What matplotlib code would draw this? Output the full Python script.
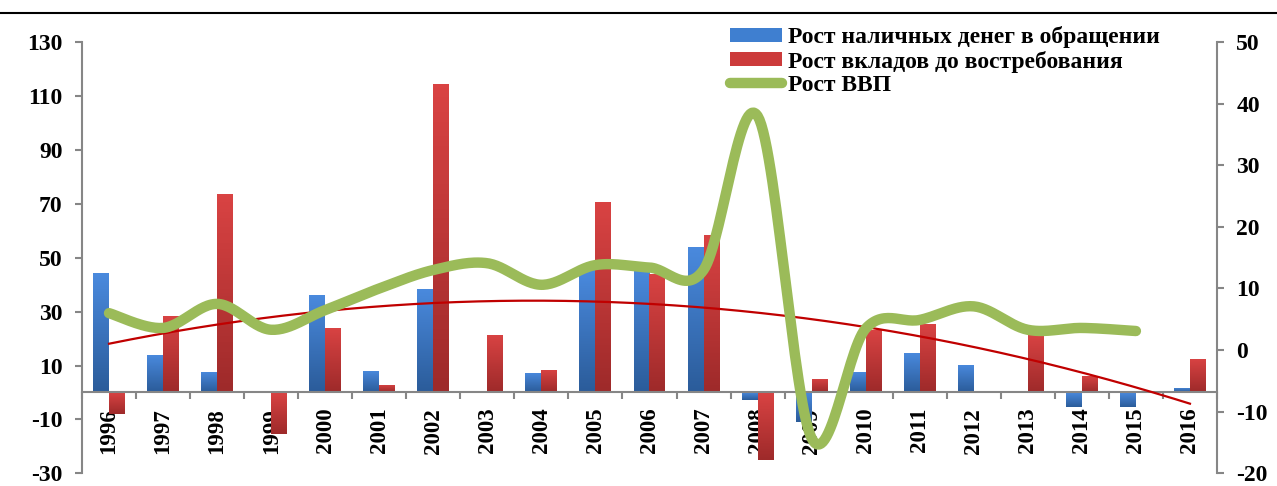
import numpy as np
import matplotlib
matplotlib.use("Agg")
import matplotlib.pyplot as plt
from matplotlib.colors import LinearSegmentedColormap
from matplotlib.lines import Line2D
from matplotlib.patches import Patch

years = [str(y) for y in range(1996, 2017)]
cash_growth = [44.5, 13.8, 7.6, 0.5, 36.2, 8.0, 38.4, 0.0, 7.2, 45.5,
               46.0, 54.1, -2.8, -10.8, 7.7, 14.7, 10.2, 0.0, -5.3, -5.3, 1.5]
deposit_growth = [-8.1, 28.2, 73.7, -15.4, 24.1, 2.8, 114.4, 21.2, 8.3, 70.7,
                  44.0, 58.3, -25.0, 4.9, 23.0, 25.5, 0.5, 21.4, 6.0, -0.3, 12.5]
gdp_growth = [6.0, 3.6, 7.5, 3.3, 6.5, 10.0, 13.0, 14.1, 10.6, 13.8,
              13.4, 13.0, 38.0, -14.3, 3.5, 4.9, 7.1, 3.3, 3.6, 3.1]

label_cash = "Рост наличных денег в обращении"
label_dep = "Рост вкладов до востребования"
label_gdp = "Рост ВВП"

plt.rcParams['font.family'] = ['Liberation Serif', 'DejaVu Serif']
plt.rcParams['font.weight'] = 'bold'
plt.rcParams['axes.unicode_minus'] = False


def smooth(xs, ys, n=30):
    # bezier smoothing like Excel's "smoothed line"
    xs = np.asarray(xs, float)
    ys = np.asarray(ys, float)
    px = np.concatenate([[xs[0]], xs, [xs[-1]]])
    py = np.concatenate([[ys[0]], ys, [ys[-1]]])
    outx, outy = [], []
    t = np.linspace(0, 1, n)
    for i in range(1, len(px) - 2):
        p0 = np.array([px[i - 1], py[i - 1]])
        p1 = np.array([px[i], py[i]])
        p2 = np.array([px[i + 1], py[i + 1]])
        p3 = np.array([px[i + 2], py[i + 2]])
        c1 = p1 + (p2 - p0) / 6
        c2 = p2 - (p3 - p1) / 6
        pts = ((1 - t) ** 3)[:, None] * p1 + (3 * (1 - t) ** 2 * t)[:, None] * c1 \
            + (3 * (1 - t) * t ** 2)[:, None] * c2 + (t ** 3)[:, None] * p2
        outx.extend(pts[:, 0])
        outy.extend(pts[:, 1])
    return np.array(outx), np.array(outy)


def gradient_bars(ax, bars, top, bottom):
    cmap = LinearSegmentedColormap.from_list("g", [bottom, top])
    grad = np.linspace(0, 1, 64).reshape(-1, 1)
    for b in bars:
        x0, y0 = b.get_x(), b.get_y()
        w, h = b.get_width(), b.get_height()
        ylo, yhi = min(y0, y0 + h), max(y0, y0 + h)
        im = ax.imshow(grad, extent=[x0, x0 + w, ylo, yhi], origin='lower',
                       aspect='auto', cmap=cmap, zorder=2)
        im.set_clip_path(b)
        b.set_alpha(0)


fig = plt.figure(figsize=(12.77, 4.86), dpi=100)
ax = fig.add_axes([0.0642, 0.026, 0.8888, 0.8876])

x = np.arange(len(years))
w = 0.295
b1 = ax.bar(x - w / 2, cash_growth, w, color='#3f7fd0', zorder=2)
b2 = ax.bar(x + w / 2, deposit_growth, w, color='#cc3b3b', zorder=2)
gradient_bars(ax, b1, '#4a8ade', '#2b5c9a')
gradient_bars(ax, b2, '#d94343', '#9e2a2a')

# polynomial trend of deposits
coef = np.polyfit(x, deposit_growth, 2)
xt = np.linspace(0, len(years) - 1, 200)
ax.plot(xt, np.polyval(coef, xt), color='#c00000', lw=1.6, zorder=3)

ax.set_xlim(-0.5, len(years) - 0.5)
ax.set_ylim(-30, 130)
ax.set_yticks(range(-30, 131, 20))
ax.set_xticks(x)
ax.set_xticklabels(years)
ax.set_xticks(np.arange(-0.5, len(years), 1), minor=True)
ax.tick_params(axis='x', which='major', length=0, pad=11,
               labelrotation=90, labelsize=16.5)
ax.tick_params(axis='x', which='minor', length=5, color='#868686', width=1.5, direction='out')
ax.tick_params(axis='y', length=5, color='#868686', width=1.5, labelsize=17, pad=9)

ax.spines['bottom'].set_position(('data', 0))
ax.spines['bottom'].set_color('#868686')
ax.spines['bottom'].set_linewidth(1.5)
ax.spines['left'].set_color('#868686')
ax.spines['left'].set_linewidth(1.5)
ax.spines['top'].set_visible(False)
ax.spines['right'].set_visible(False)
ax.patch.set_alpha(0)

ax2 = ax.twinx()
gx, gy = smooth(x[:len(gdp_growth)], gdp_growth)
ax2.plot(gx, gy, color='#9bbb59', lw=7.5, solid_capstyle='round', zorder=5)
ax2.set_ylim(-20, 50)
ax2.set_yticks(range(-20, 51, 10))
ax2.tick_params(axis='y', length=5, color='#868686', width=1.5, labelsize=17, pad=9)
for s in ['top', 'bottom', 'left']:
    ax2.spines[s].set_visible(False)
ax2.spines['right'].set_color('#868686')
ax2.spines['right'].set_linewidth(1.5)

handles = [Patch(facecolor='#3f7fd0'), Patch(facecolor='#cc3b3b'),
           Line2D([], [], color='#9bbb59', lw=7.5, solid_capstyle='round')]
fig.legend(handles, [label_cash, label_dep, label_gdp], loc='upper left',
           bbox_to_anchor=(0.5717, 0.946), frameon=False,
           prop={'weight': 'bold', 'size': 17}, handlelength=2.2,
           handleheight=0.55, handletextpad=0.25, labelspacing=0.1,
           borderpad=0, borderaxespad=0)

fig.add_artist(Line2D([0, 1], [0.973, 0.973], color='black', lw=1.5,
                      transform=fig.transFigure))

fig.savefig("out.png", dpi=100)
